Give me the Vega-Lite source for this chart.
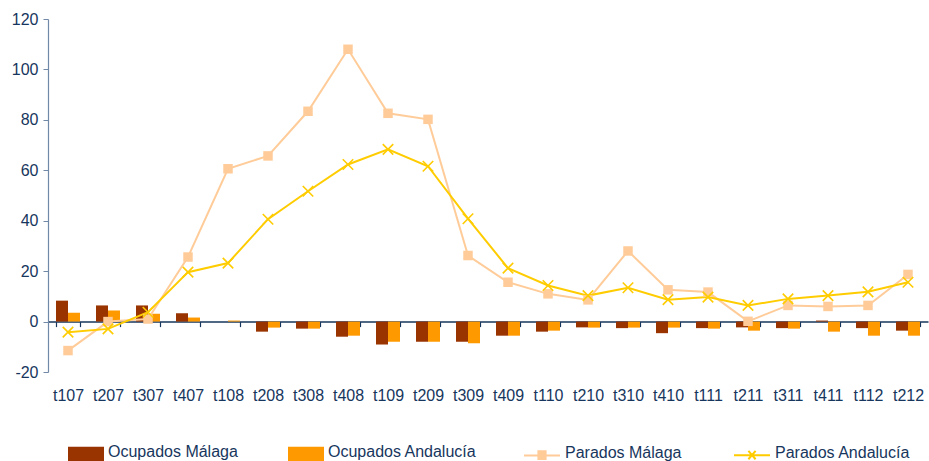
{
  "$schema": "https://vega.github.io/schema/vega-lite/v6.json",
  "width": 880,
  "height": 353,
  "autosize": {"type": "none"},
  "padding": {"left": 48, "top": 19, "right": 1, "bottom": 89},
  "config": {
    "view": {"stroke": null},
    "font": "Liberation Sans",
    "legend": {"padding": 0}
  },
  "datasets": {
    "d": [
      {"periodo": "t107", "serie": "Ocupados Málaga", "valor": 8.3},
      {"periodo": "t207", "serie": "Ocupados Málaga", "valor": 6.4},
      {"periodo": "t307", "serie": "Ocupados Málaga", "valor": 6.4},
      {"periodo": "t407", "serie": "Ocupados Málaga", "valor": 3.3},
      {"periodo": "t108", "serie": "Ocupados Málaga", "valor": 0},
      {"periodo": "t208", "serie": "Ocupados Málaga", "valor": -4},
      {"periodo": "t308", "serie": "Ocupados Málaga", "valor": -2.8},
      {"periodo": "t408", "serie": "Ocupados Málaga", "valor": -6},
      {"periodo": "t109", "serie": "Ocupados Málaga", "valor": -9.1},
      {"periodo": "t209", "serie": "Ocupados Málaga", "valor": -8},
      {"periodo": "t309", "serie": "Ocupados Málaga", "valor": -8},
      {"periodo": "t409", "serie": "Ocupados Málaga", "valor": -5.6},
      {"periodo": "t110", "serie": "Ocupados Málaga", "valor": -4},
      {"periodo": "t210", "serie": "Ocupados Málaga", "valor": -2.3},
      {"periodo": "t310", "serie": "Ocupados Málaga", "valor": -2.6},
      {"periodo": "t410", "serie": "Ocupados Málaga", "valor": -4.6},
      {"periodo": "t111", "serie": "Ocupados Málaga", "valor": -2.6},
      {"periodo": "t211", "serie": "Ocupados Málaga", "valor": -2.3},
      {"periodo": "t311", "serie": "Ocupados Málaga", "valor": -2.6},
      {"periodo": "t411", "serie": "Ocupados Málaga", "valor": 0.4},
      {"periodo": "t112", "serie": "Ocupados Málaga", "valor": -2.6},
      {"periodo": "t212", "serie": "Ocupados Málaga", "valor": -3.6},
      {"periodo": "t107", "serie": "Ocupados Andalucía", "valor": 3.5},
      {"periodo": "t207", "serie": "Ocupados Andalucía", "valor": 4.4},
      {"periodo": "t307", "serie": "Ocupados Andalucía", "valor": 3.1},
      {"periodo": "t407", "serie": "Ocupados Andalucía", "valor": 1.6},
      {"periodo": "t108", "serie": "Ocupados Andalucía", "valor": 0.4},
      {"periodo": "t208", "serie": "Ocupados Andalucía", "valor": -2.4},
      {"periodo": "t308", "serie": "Ocupados Andalucía", "valor": -2.8},
      {"periodo": "t408", "serie": "Ocupados Andalucía", "valor": -5.6},
      {"periodo": "t109", "serie": "Ocupados Andalucía", "valor": -8},
      {"periodo": "t209", "serie": "Ocupados Andalucía", "valor": -8},
      {"periodo": "t309", "serie": "Ocupados Andalucía", "valor": -8.6},
      {"periodo": "t409", "serie": "Ocupados Andalucía", "valor": -5.6},
      {"periodo": "t110", "serie": "Ocupados Andalucía", "valor": -3.6},
      {"periodo": "t210", "serie": "Ocupados Andalucía", "valor": -2.4},
      {"periodo": "t310", "serie": "Ocupados Andalucía", "valor": -2.4},
      {"periodo": "t410", "serie": "Ocupados Andalucía", "valor": -2.4},
      {"periodo": "t111", "serie": "Ocupados Andalucía", "valor": -2.8},
      {"periodo": "t211", "serie": "Ocupados Andalucía", "valor": -3.6},
      {"periodo": "t311", "serie": "Ocupados Andalucía", "valor": -2.8},
      {"periodo": "t411", "serie": "Ocupados Andalucía", "valor": -4},
      {"periodo": "t112", "serie": "Ocupados Andalucía", "valor": -5.6},
      {"periodo": "t212", "serie": "Ocupados Andalucía", "valor": -5.6},
      {"periodo": "t107", "serie": "Parados Málaga", "valor": -11.5},
      {"periodo": "t207", "serie": "Parados Málaga", "valor": 0},
      {"periodo": "t307", "serie": "Parados Málaga", "valor": 1},
      {"periodo": "t407", "serie": "Parados Málaga", "valor": 25.6},
      {"periodo": "t108", "serie": "Parados Málaga", "valor": 60.6},
      {"periodo": "t208", "serie": "Parados Málaga", "valor": 65.7},
      {"periodo": "t308", "serie": "Parados Málaga", "valor": 83.4},
      {"periodo": "t408", "serie": "Parados Málaga", "valor": 108},
      {"periodo": "t109", "serie": "Parados Málaga", "valor": 82.6},
      {"periodo": "t209", "serie": "Parados Málaga", "valor": 80.2},
      {"periodo": "t309", "serie": "Parados Málaga", "valor": 26.2},
      {"periodo": "t409", "serie": "Parados Málaga", "valor": 15.6},
      {"periodo": "t110", "serie": "Parados Málaga", "valor": 11},
      {"periodo": "t210", "serie": "Parados Málaga", "valor": 8.6},
      {"periodo": "t310", "serie": "Parados Málaga", "valor": 28},
      {"periodo": "t410", "serie": "Parados Málaga", "valor": 12.6},
      {"periodo": "t111", "serie": "Parados Málaga", "valor": 11.7},
      {"periodo": "t211", "serie": "Parados Málaga", "valor": 0.1},
      {"periodo": "t311", "serie": "Parados Málaga", "valor": 6.4},
      {"periodo": "t411", "serie": "Parados Málaga", "valor": 6},
      {"periodo": "t112", "serie": "Parados Málaga", "valor": 6.4},
      {"periodo": "t212", "serie": "Parados Málaga", "valor": 18.7},
      {"periodo": "t107", "serie": "Parados Andalucía", "valor": -4.2},
      {"periodo": "t207", "serie": "Parados Andalucía", "valor": -2.9},
      {"periodo": "t307", "serie": "Parados Andalucía", "valor": 3.7},
      {"periodo": "t407", "serie": "Parados Andalucía", "valor": 19.6},
      {"periodo": "t108", "serie": "Parados Andalucía", "valor": 23.2},
      {"periodo": "t208", "serie": "Parados Andalucía", "valor": 40.6},
      {"periodo": "t308", "serie": "Parados Andalucía", "valor": 51.7},
      {"periodo": "t408", "serie": "Parados Andalucía", "valor": 62.3},
      {"periodo": "t109", "serie": "Parados Andalucía", "valor": 68.3},
      {"periodo": "t209", "serie": "Parados Andalucía", "valor": 61.6},
      {"periodo": "t309", "serie": "Parados Andalucía", "valor": 40.8},
      {"periodo": "t409", "serie": "Parados Andalucía", "valor": 21.2},
      {"periodo": "t110", "serie": "Parados Andalucía", "valor": 14.3},
      {"periodo": "t210", "serie": "Parados Andalucía", "valor": 10.3},
      {"periodo": "t310", "serie": "Parados Andalucía", "valor": 13.4},
      {"periodo": "t410", "serie": "Parados Andalucía", "valor": 8.7},
      {"periodo": "t111", "serie": "Parados Andalucía", "valor": 9.7},
      {"periodo": "t211", "serie": "Parados Andalucía", "valor": 6.4},
      {"periodo": "t311", "serie": "Parados Andalucía", "valor": 9},
      {"periodo": "t411", "serie": "Parados Andalucía", "valor": 10.3},
      {"periodo": "t112", "serie": "Parados Andalucía", "valor": 11.8},
      {"periodo": "t212", "serie": "Parados Andalucía", "valor": 15.6}
    ]
  },
  "data": {"name": "d"},
  "encoding": {
    "x": {
      "field": "periodo",
      "type": "nominal",
      "sort": ["t107","t207","t307","t407","t108","t208","t308","t408","t109","t209","t309","t409","t110","t210","t310","t410","t111","t211","t311","t411","t112","t212"],
      "scale": {"paddingInner": 0.4, "paddingOuter": 0.2},
      "axis": {
        "title": null,
        "orient": "bottom",
        "offset": -50.4,
        "domainColor": "#17365D",
        "domainWidth": 1.5,
        "tickBand": "extent",
        "tickColor": "#17365D",
        "tickSize": 5,
        "tickWidth": 1.2,
        "labelAngle": 0,
        "labelPadding": 61,
        "labelFontSize": 16,
        "labelColor": "#17365D",
        "grid": false
      }
    },
    "y": {
      "field": "valor",
      "type": "quantitative",
      "scale": {"domain": [-20, 120], "nice": false, "zero": false},
      "axis": {
        "title": null,
        "values": [-20, 0, 20, 40, 60, 80, 100, 120],
        "labelExpr": "'' + datum.value",
        "grid": false,
        "domainColor": "#7089A8",
        "domainWidth": 1.2,
        "tickColor": "#7089A8",
        "tickSize": 5,
        "labelPadding": 5,
        "labelFontSize": 16,
        "labelColor": "#17365D"
      }
    }
  },
  "layer": [
    {
      "transform": [{"filter": "datum.serie === 'Ocupados Málaga' || datum.serie === 'Ocupados Andalucía'"}],
      "mark": {"type": "bar"},
      "encoding": {
        "xOffset": {
          "field": "serie",
          "type": "nominal",
          "sort": ["Ocupados Málaga", "Ocupados Andalucía"],
          "scale": {"paddingInner": 0, "paddingOuter": 0}
        },
        "fill": {
          "field": "serie",
          "type": "nominal",
          "scale": {"domain": ["Ocupados Málaga", "Ocupados Andalucía"], "range": ["#993300", "#FF9900"]},
          "legend": {
            "title": null,
            "orient": "none",
            "legendX": 20,
            "legendY": 414.5,
            "direction": "horizontal",
            "symbolType": "M-1,-0.27H1V0.7H-1Z",
            "symbolSize": 1296,
            "symbolStrokeWidth": 0,
            "symbolOpacity": 1,
            "labelFontSize": 16,
            "labelColor": "#17365D",
            "labelOffset": 4,
            "columnPadding": 50,
            "labelLimit": 300
          }
        }
      }
    },
    {
      "transform": [{"filter": "datum.serie === 'Parados Málaga' || datum.serie === 'Parados Andalucía'"}],
      "mark": {"type": "line", "strokeWidth": 2},
      "encoding": {
        "stroke": {
          "field": "serie",
          "type": "nominal",
          "scale": {"domain": ["Parados Málaga", "Parados Andalucía"], "range": ["#FFCC99", "#FFCC00"]},
          "legend": {
            "title": null,
            "orient": "none",
            "legendX": 475,
            "legendY": 414.5,
            "direction": "horizontal",
            "symbolSize": 1296,
            "symbolStrokeWidth": 2,
            "labelFontSize": 16,
            "labelColor": "#17365D",
            "labelOffset": 4,
            "columnPadding": 48,
            "labelLimit": 300,
            "encode": {
              "symbols": {
                "update": {
                  "shape": {"signal": "datum.value === 'Parados Málaga' ? 'M-1,0.14H1M-0.2,-0.1H0.2V0.34H-0.2Z' : 'M-1,0.14H1M-0.2,-0.1L0.2,0.36M-0.2,0.36L0.2,-0.1'"},
                  "fill": {"signal": "datum.value === 'Parados Málaga' ? '#FFCC99' : 'transparent'"},
                  "fillOpacity": {"value": 1}
                }
              }
            }
          }
        }
      }
    },
    {
      "transform": [{"filter": "datum.serie === 'Parados Málaga'"}],
      "mark": {"type": "point", "shape": "square", "filled": true, "size": 90, "color": "#FFCC99", "opacity": 1},
      "encoding": {}
    },
    {
      "transform": [{"filter": "datum.serie === 'Parados Andalucía'"}],
      "mark": {"type": "point", "shape": "M-1,-1L1,1M-1,1L1,-1", "filled": false, "size": 110, "stroke": "#FFCC00", "strokeWidth": 1.6, "opacity": 1},
      "encoding": {}
    }
  ]
}
